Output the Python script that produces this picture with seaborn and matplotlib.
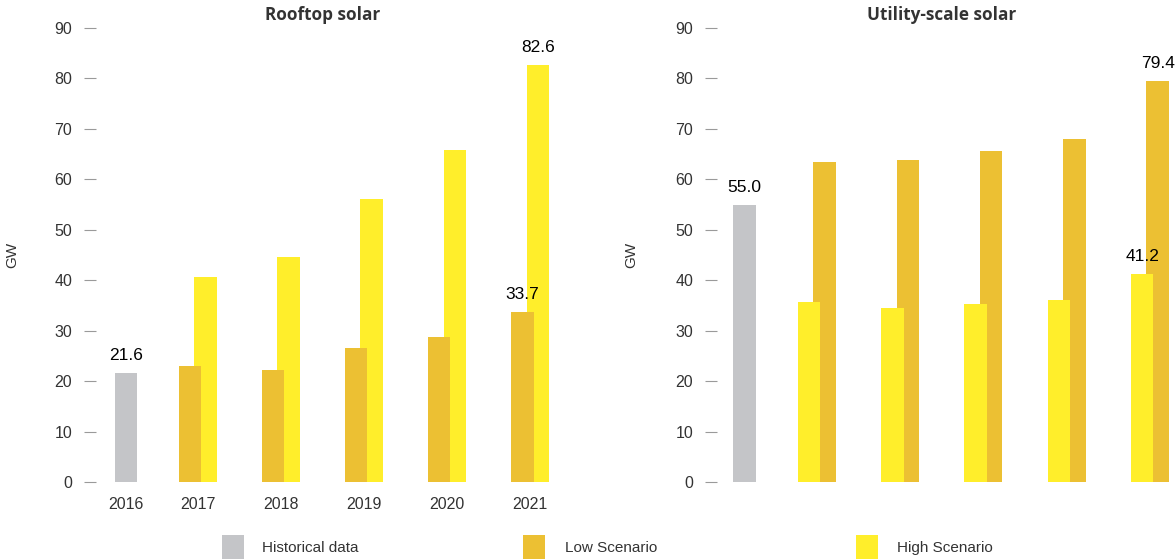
import numpy as np
import matplotlib
matplotlib.use('Agg')
import matplotlib.pyplot as plt
from matplotlib.patches import Rectangle
import seaborn as sns

sns.set_theme(style='white')
plt.rcParams['font.family'] = ['Liberation Sans', 'DejaVu Sans']

# ── data ──────────────────────────────────────────────────────────────────────
years = ['2016', '2017', '2018', '2019', '2020', '2021']

rooftop_hist = 21.6
rooftop_low = [22.9, 22.2, 26.6, 28.8, 33.7]
rooftop_high = [40.6, 44.7, 56.2, 65.8, 82.6]

utility_hist = 55.0
utility_low = [63.4, 63.8, 65.7, 68.0, 79.4]
utility_high = [35.7, 34.5, 35.3, 36.1, 41.2]

legend_labels = ['Historical data', 'Low Scenario', 'High Scenario']

# ── style / layout ────────────────────────────────────────────────────────────
C_HIST, C_LOW, C_HIGH = '#c4c5c8', '#ecc033', '#ffee2b'
TXT = '#333333'
W, H = 1176, 559
POS = [0.135, 1, 2, 3, 4, 5]      # slot of each year on the x axis
BAR_W = 0.27
OFF = 0.093

fig = plt.figure(figsize=(W / 100, H / 100), dpi=100)
ax_l = fig.add_axes([96 / W, 77 / H, 464 / W, 454 / H])
ax_r = fig.add_axes([717 / W, 77 / H, 459 / W, 454 / H])


def panel(ax, hist, low, high, low_side, xlim, show_years):
    fx = np.array(POS[1:])
    low_front = np.mean(low) < np.mean(high)
    sns.barplot(x=[POS[0]], y=[hist], native_scale=True, width=BAR_W, color=C_HIST,
                saturation=1, linewidth=0, errorbar=None, ax=ax, zorder=2)
    sns.barplot(x=fx + low_side * OFF, y=low, native_scale=True, width=BAR_W, color=C_LOW,
                saturation=1, linewidth=0, errorbar=None, ax=ax, zorder=3 if low_front else 2)
    sns.barplot(x=fx - low_side * OFF, y=high, native_scale=True, width=BAR_W, color=C_HIGH,
                saturation=1, linewidth=0, errorbar=None, ax=ax, zorder=2 if low_front else 3)

    lab = dict(xytext=(0, 7.2), textcoords='offset points', ha='center', va='bottom',
               fontsize=12.5, color='black', zorder=5)
    ax.annotate(f'{hist:.1f}', (POS[0], hist), **lab)
    ax.annotate(f'{low[-1]:.1f}', (POS[-1] + low_side * OFF, low[-1]), **lab)
    ax.annotate(f'{high[-1]:.1f}', (POS[-1] - low_side * OFF, high[-1]), **lab)

    ax.set_xlim(*xlim)
    ax.set_ylim(0, 90)
    ax.set_yticks(range(0, 91, 10))
    ax.set_xticks(POS)
    ax.set_xticklabels(years if show_years else [''] * len(years))
    ax.set_xlabel('')
    ax.set_ylabel('')
    sns.despine(ax=ax, left=True, bottom=True)
    ax.tick_params(axis='y', left=True, length=8.6, width=0.8, color='#9a9a9a',
                   pad=8.6, labelsize=11.5, labelcolor=TXT)
    ax.tick_params(axis='x', bottom=False, length=0, pad=11, labelsize=11.5, labelcolor=TXT)


panel(ax_l, rooftop_hist, rooftop_low, rooftop_high, -1, (-0.224, 5.36), True)
panel(ax_r, utility_hist, utility_low, utility_high, 1, (-0.198, 5.313), False)

# titles and axis names
title_kw = dict(ha='center', va='center', fontsize=12.3, fontweight='bold', color=TXT,
                family=['Open Sans', 'DejaVu Sans'])
fig.text(322.7 / W, 1 - 15 / H, 'Rooftop solar', **title_kw)
fig.text(942 / W, 1 - 15 / H, 'Utility-scale solar', **title_kw)
for xpix in (12, 631.5):
    fig.text(xpix / W, 1 - 255 / H, 'GW', rotation=90, ha='center', va='center',
             fontsize=11, color=TXT)

# legend along the bottom edge
for xpix, tx, col, name in zip((222, 523, 856), (262, 565, 897),
                               (C_HIST, C_LOW, C_HIGH), legend_labels):
    fig.add_artist(Rectangle((xpix / W, 0), 22 / W, 24 / H, transform=fig.transFigure,
                             facecolor=col, edgecolor='none'))
    fig.text(tx / W, 11 / H, name, ha='left', va='center', fontsize=11, color=TXT)

fig.savefig('out.png', dpi=100)
